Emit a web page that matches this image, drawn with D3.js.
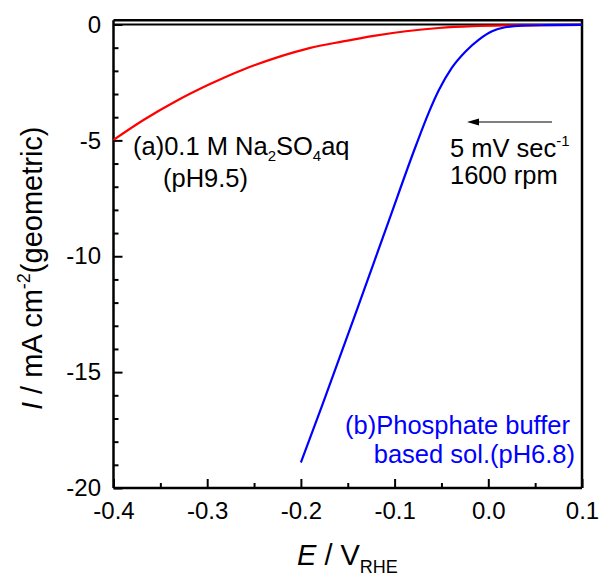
<!DOCTYPE html>
<html lang="en">
<head>
<meta charset="UTF-8">
<title>LSV curves</title>
<script src="https://d3js.org/d3.v7.min.js"></script>
<style>
  body { margin: 0; background: #fff; }
  svg text { font-family: "Liberation Sans", Arial, sans-serif; }
</style>
</head>
<body>
<div id="chart"></div>
<script>
// (a) 0.1 M Na2SO4aq, pH9.5
var redE = [-0.4, -0.368, -0.333, -0.297, -0.262, -0.226, -0.191, -0.155, -0.124, -0.088, -0.053, -0.017, 0.018, 0.1];
var redI = [-4.98, -4.12, -3.30, -2.57, -1.95, -1.43, -1.02, -0.73, -0.50, -0.29, -0.15, -0.07, -0.04, -0.02];
// (b) phosphate buffer, pH6.8
var blueE = [-0.2, -0.177, -0.141, -0.106, -0.077, -0.063, -0.053, -0.039, -0.024, -0.010, 0.004, 0.018, 0.036, 0.06, 0.1];
var blueI = [-18.9, -16.4, -12.4, -8.45, -5.2, -3.75, -2.85, -1.87, -1.15, -0.65, -0.29, -0.12, -0.05, -0.03, -0.02];

var xTicks = [-0.4, -0.3, -0.2, -0.1, 0.0, 0.1];
var xMinor = [-0.35, -0.25, -0.15, -0.05, 0.05];
var yTicks = [0, -5, -10, -15, -20];
var yMinor = d3.range(-19, 0, 1).filter(function(v) { return v % 5 !== 0; });

var W = 602, H = 580;
var svg = d3.select("#chart").append("svg")
    .attr("width", W).attr("height", H);

var x = d3.scaleLinear().domain([-0.4, 0.1]).range([113.5, 582]);
var y = d3.scaleLinear().domain([-20, 0]).range([488, 24.5]);
var yTop = y(0.18);

// plain hyphen instead of unicode minus
function hy(fmt) {
  var f = d3.format(fmt);
  return function(d) { return f(d).replace("\u2212", "-"); };
}

// frame (top + right)
svg.append("path")
    .attr("d", "M" + x(-0.4) + "," + yTop + "H" + x(0.1) + "V" + y(-20))
    .attr("fill", "none").attr("stroke", "#000").attr("stroke-width", 2.5);

// zero line
svg.append("line")
    .attr("x1", x(-0.4)).attr("x2", x(0.1))
    .attr("y1", y(0)).attr("y2", y(0))
    .attr("stroke", "#000").attr("stroke-width", 2.2);

// x axis
var gx = svg.append("g").attr("transform", "translate(0," + y(-20) + ")")
    .call(d3.axisBottom(x).tickValues(xTicks).tickFormat(hy(".1f"))
        .tickSizeInner(-9).tickSizeOuter(0).tickPadding(14));
svg.append("g").attr("transform", "translate(0," + y(-20) + ")")
    .call(d3.axisBottom(x).tickValues(xMinor).tickFormat("")
        .tickSizeInner(-5).tickSizeOuter(0))
    .select(".domain").remove();

// y axis
var gy = svg.append("g").attr("transform", "translate(" + x(-0.4) + ",0)")
    .call(d3.axisLeft(y).tickValues(yTicks).tickFormat(hy("d"))
        .tickSizeInner(-9).tickSizeOuter(0).tickPadding(12.5));
svg.append("g").attr("transform", "translate(" + x(-0.4) + ",0)")
    .call(d3.axisLeft(y).tickValues(yMinor).tickFormat("")
        .tickSizeInner(-5).tickSizeOuter(0))
    .select(".domain").remove();

// axis lines reach the frame
gy.select(".domain").attr("d", "M0," + yTop + "V" + y(-20));
gx.select(".domain").attr("d", "M" + x(-0.4) + ",0H" + x(0.1));

svg.selectAll(".domain").attr("stroke-width", 2.5);
svg.selectAll(".tick line").attr("stroke-width", 2);
svg.selectAll(".tick text")
    .attr("font-size", 24)
    .attr("font-family", "'Liberation Sans', Arial, sans-serif")
    .attr("fill", "#000");

// curves
var line = d3.line()
    .x(function(d) { return x(d[0]); })
    .y(function(d) { return y(d[1]); })
    .curve(d3.curveMonotoneX);

svg.append("path")
    .datum(redE.map(function(e, i) { return [e, redI[i]]; }))
    .attr("d", line).attr("fill", "none")
    .attr("stroke", "#ff0000").attr("stroke-width", 2.2);

svg.append("path")
    .datum(blueE.map(function(e, i) { return [e, blueI[i]]; }))
    .attr("d", line).attr("fill", "none")
    .attr("stroke", "#0000ff").attr("stroke-width", 2.2);

// annotations
var fs = 25.5, sub = 15;
var ta = svg.append("text").attr("x", 133).attr("y", 155).attr("font-size", fs);
ta.append("tspan").text("(a)0.1 M Na");
ta.append("tspan").attr("font-size", sub).attr("dy", 6).text("2");
ta.append("tspan").attr("dy", -6).text("SO");
ta.append("tspan").attr("font-size", sub).attr("dy", 6).text("4");
ta.append("tspan").attr("dy", -6).text("aq");
svg.append("text").attr("x", 163).attr("y", 187).attr("font-size", fs).text("(pH9.5)");

var tb = svg.append("text").attr("x", 450).attr("y", 157).attr("font-size", fs);
tb.append("tspan").text("5 mV sec");
tb.append("tspan").attr("font-size", sub).attr("dy", -11).text("-1");
svg.append("text").attr("x", 450).attr("y", 184).attr("font-size", fs).text("1600 rpm");

// arrow
svg.append("line").attr("x1", 552).attr("x2", 476).attr("y1", 122).attr("y2", 122)
    .attr("stroke", "#000").attr("stroke-width", 1.2);
svg.append("path").attr("d", "M467,122L479,118.5L479,125.5Z").attr("fill", "#000");

svg.append("text").attr("x", 570).attr("y", 434).attr("font-size", fs)
    .attr("text-anchor", "end").attr("fill", "#0000ff").text("(b)Phosphate buffer");
svg.append("text").attr("x", 575).attr("y", 463).attr("font-size", fs)
    .attr("text-anchor", "end").attr("fill", "#0000ff").text("based sol.(pH6.8)");

// axis titles
var xl = svg.append("text").attr("x", 297).attr("y", 565).attr("font-size", 29);
xl.append("tspan").attr("font-style", "italic").text("E");
xl.append("tspan").text(" / V");
xl.append("tspan").attr("font-size", 18).attr("dy", 8).text("RHE");

var yl = svg.append("text").attr("transform", "translate(42,410) rotate(-90)").attr("font-size", 29);
yl.append("tspan").attr("font-style", "italic").text("I");
yl.append("tspan").text(" / mA cm");
yl.append("tspan").attr("font-size", 18).attr("dy", -12).text("-2");
yl.append("tspan").attr("dy", 12).text("(geometric)");
</script>
</body>
</html>
